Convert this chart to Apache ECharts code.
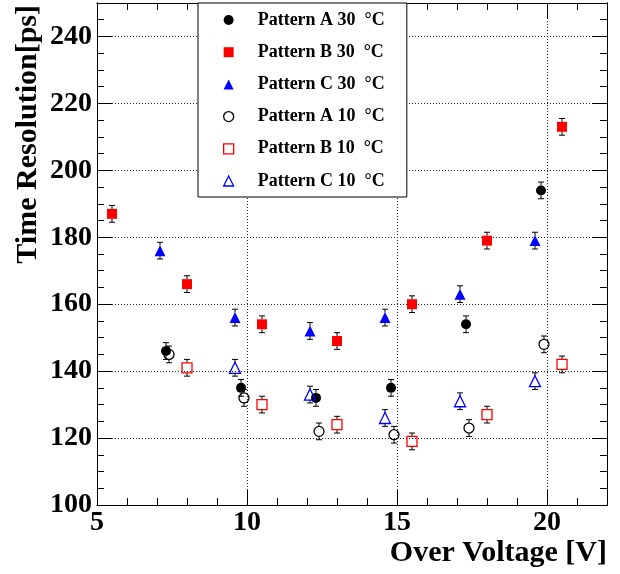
<!DOCTYPE html>
<html>
<head>
<meta charset="utf-8">
<script src="https://cdn.jsdelivr.net/npm/echarts@6/dist/echarts.min.js"></script>
<style>html,body{margin:0;padding:0;background:#fff}#c{width:620px;height:574px}</style>
</head>
<body>
<div id="c"></div>
<script>
// ---- data ----
const xA30 = [7.3, 9.8, 12.3, 14.8, 17.3, 19.8];
const yA30 = [146, 135, 132, 135, 154, 194];
const eA30 = [2.5, 2.5, 2.5, 2.5, 2.5, 2.5];

const xB30 = [5.5, 8.0, 10.5, 13.0, 15.5, 18.0, 20.5];
const yB30 = [187, 166, 154, 149, 160, 179, 213];
const eB30 = [2.5, 2.5, 2.5, 2.5, 2.5, 2.5, 2.5];

const xC30 = [7.1, 9.6, 12.1, 14.6, 17.1, 19.6];
const yC30 = [176, 156, 152, 156, 163, 179];
const eC30 = [2.5, 2.5, 2.5, 2.5, 2.5, 2.5];

const xA10 = [7.4, 9.9, 12.4, 14.9, 17.4, 19.9];
const yA10 = [145, 132, 122, 121, 123, 148];
const eA10 = [2.5, 2.5, 2.5, 2.5, 2.5, 2.5];

const xB10 = [8.0, 10.5, 13.0, 15.5, 18.0, 20.5];
const yB10 = [141, 130, 124, 119, 127, 142];
const eB10 = [2.5, 2.5, 2.5, 2.5, 2.5, 2.5];

const xC10 = [9.6, 12.1, 14.6, 17.1, 19.6];
const yC10 = [141, 133, 126, 131, 137];
const eC10 = [2.5, 2.5, 2.5, 2.5, 2.5];

const names = ['Pattern A 30  °C', 'Pattern B 30  °C', 'Pattern C 30  °C',
               'Pattern A 10  °C', 'Pattern B 10  °C', 'Pattern C 10  °C'];
const xTickLabels = [5, 10, 15, 20];
const yTickLabels = [100, 120, 140, 160, 180, 200, 220, 240];

const xTitle = 'Over Voltage [V]';
const yTitle = 'Time Resolution[ps]';

// ---- build ----
const FONT = '"Liberation Serif", "Times New Roman", serif';
const zip = (xs, ys) => xs.map((x, i) => [x, ys[i]]);
const zipErr = (xs, ys, es) => xs.map((x, i) => [x, ys[i], es[i]]);

const styles = [
  {symbol: 'circle',   color: '#000', border: '#000', fill: true},
  {symbol: 'rect',     color: '#f00', border: '#f00', fill: true},
  {symbol: 'triangle', color: '#00f', border: '#00f', fill: true},
  {symbol: 'circle',   color: '#000', border: '#000', fill: false},
  {symbol: 'rect',     color: '#f00', border: '#f00', fill: false},
  {symbol: 'triangle', color: '#00f', border: '#00f', fill: false}
];
const sets = [
  [xA30, yA30, eA30], [xB30, yB30, eB30], [xC30, yC30, eC30],
  [xA10, yA10, eA10], [xB10, yB10, eB10], [xC10, yC10, eC10]
];

function errRender(params, api) {
  const x = api.value(0), y = api.value(1), e = api.value(2);
  const pc = api.coord([x, y]);
  const ph = api.coord([x, y + e]);
  const pl = api.coord([x, y - e]);
  const gap = 5, cap = 3;
  const st = {stroke: '#000', lineWidth: 1};
  const ch = [];
  if (pc[1] - gap > ph[1]) ch.push({type: 'line', shape: {x1: pc[0], y1: pc[1] - gap, x2: ph[0], y2: ph[1]}, style: st});
  if (pl[1] > pc[1] + gap) ch.push({type: 'line', shape: {x1: pc[0], y1: pc[1] + gap, x2: pl[0], y2: pl[1]}, style: st});
  ch.push({type: 'line', shape: {x1: ph[0] - cap, y1: ph[1], x2: ph[0] + cap, y2: ph[1]}, style: st});
  ch.push({type: 'line', shape: {x1: pl[0] - cap, y1: pl[1], x2: pl[0] + cap, y2: pl[1]}, style: st});
  return {type: 'group', children: ch};
}

const series = [];
sets.forEach((s, i) => {
  series.push({
    type: 'custom', name: names[i] + ' err', renderItem: errRender,
    data: zipErr(s[0], s[1], s[2]), z: 2, silent: true,
    xAxisIndex: 0, yAxisIndex: 0
  });
});
sets.forEach((s, i) => {
  const st = styles[i];
  series.push({
    type: 'scatter', name: names[i], data: zip(s[0], s[1]),
    symbol: st.symbol, symbolSize: st.symbol === 'triangle' ? 11 : 10, z: 3,
    xAxisIndex: 0, yAxisIndex: 0,
    itemStyle: st.fill ? {color: st.color, borderWidth: 0, opacity: 1}
                       : {color: 'rgba(255,255,255,0)', borderColor: st.border, borderWidth: 1.3, opacity: 1}
  });
});

const gridLine = {show: true, lineStyle: {color: '#222', type: [1, 2], width: 1}};
const axLine = {show: true, onZero: false, lineStyle: {color: '#000', width: 1}};

function yAx(pos, major, labels) {
  return {
    type: 'value', position: pos, min: 100, max: 250, interval: major ? 20 : 5,
    axisLine: axLine,
    axisTick: {show: true, inside: true, length: major ? 15 : 7, lineStyle: {color: '#000', width: 1}},
    axisLabel: labels ? {show: true, margin: 5, color: '#000', fontFamily: FONT, fontWeight: 'bold', fontSize: 28,
      formatter: v => yTickLabels.indexOf(v) >= 0 ? String(v) : ''} : {show: false},
    splitLine: (labels ? gridLine : {show: false})
  };
}
function xAx(pos, major, labels) {
  return {
    type: 'value', position: pos, min: 5, max: 22, interval: major ? 5 : 1,
    axisLine: axLine,
    axisTick: {show: true, inside: true, length: major ? 15 : 7, lineStyle: {color: '#000', width: 1}},
    axisLabel: labels ? {show: true, margin: 4, color: '#000', fontFamily: FONT, fontWeight: 'bold', fontSize: 28,
      formatter: v => xTickLabels.indexOf(v) >= 0 ? String(v) : ''} : {show: false},
    splitLine: (labels ? gridLine : {show: false})
  };
}

const option = {
  animation: false,
  backgroundColor: '#fff',
  grid: {left: 97, right: 13, top: 3, bottom: 69, containLabel: false},
  xAxis: [xAx('bottom', true, true), xAx('bottom', false, false), xAx('top', true, false), xAx('top', false, false)],
  yAxis: [yAx('left', true, true), yAx('left', false, false), yAx('right', true, false), yAx('right', false, false)],
  legend: {
    orient: 'vertical', left: 198, top: 3,
    padding: [8, 22, 7, 25],
    itemWidth: 10, itemHeight: 10, itemGap: 14.2,
    backgroundColor: '#fff', borderColor: '#000', borderWidth: 1,
    textStyle: {fontFamily: FONT, fontWeight: 'bold', fontSize: 18, color: '#000', lineHeight: 18, padding: [0, 0, 0, 19]},
    data: names.map((n, i) => ({name: n, itemStyle: styles[i].fill ? {borderWidth: 0} : {borderWidth: 1.3}})),
    selectedMode: false
  },
  graphic: [
    {type: 'text', x: 28, y: 5, rotation: Math.PI / 2, z: 10,
     style: {text: yTitle, font: 'bold 30px ' + FONT, textAlign: 'right', textVerticalAlign: 'middle', fill: '#000'}},
    {type: 'text', x: 607, y: 553, z: 10,
     style: {text: xTitle, font: 'bold 30px ' + FONT, textAlign: 'right', textVerticalAlign: 'middle', fill: '#000'}}
  ],
  series: series
};

const chart = echarts.init(document.getElementById('c'), null, {renderer: 'canvas'});
chart.setOption(option);
</script>
</body>
</html>
